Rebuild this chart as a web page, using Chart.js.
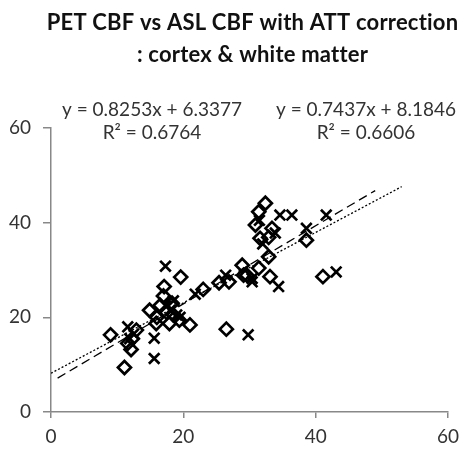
<!DOCTYPE html>
<html>
<head>
<meta charset="utf-8">
<script src="https://cdn.jsdelivr.net/npm/chart.js@4"></script>
<style>
  html, body { margin: 0; padding: 0; background: #fff; }
  #wrap { width: 466px; height: 451px; }
</style>
</head>
<body>
<div id="wrap"><canvas id="scatter" width="466" height="451"></canvas></div>
<script>
// ASL CBF (x) vs PET CBF (y)
const diamondX = [9, 11.1, 11.6, 12.1, 12.3, 12.9, 14.9, 15.9, 16.5, 17.1, 17.5, 17.9, 18.3, 19.4, 19.6, 21, 23, 25.4, 26.5, 26.9, 28.9, 29.1, 29.6, 30.9, 31.4, 31.4, 31.6, 32.4, 32.9, 32.9, 33.1, 33.4, 38.6, 41.1, 17, 18.5, 16];
const diamondY = [16.3, 9.4, 14.5, 13.2, 15.5, 17.3, 21.5, 18.7, 22.5, 26.5, 21, 18.7, 23, 19.4, 28.5, 18.4, 25.9, 27.3, 17.5, 27.5, 31, 28.9, 28.9, 39.5, 42.3, 30.4, 36.7, 44.1, 36.9, 32.8, 28.6, 38.8, 36.3, 28.6, 24.5, 20.5, 20];
const crossX = [11.6, 11.9, 12.5, 15.6, 15.6, 17.3, 17.3, 18, 18.5, 19, 19.5, 21.8, 26.4, 29.8, 30.4, 30.4, 33.9, 34.4, 34.6, 36.4, 38.6, 41.6, 43.1, 32, 31.5];
const crossY = [18, 15.5, 16.5, 11.3, 15.6, 30.8, 22.5, 21.5, 23.5, 20.5, 20, 24.9, 28.9, 16.3, 27.5, 28.2, 37.8, 26.5, 41.6, 41.6, 38.8, 41.6, 29.6, 35.5, 40.5];

// trend lines as reported on the chart
const slopes = [0.8253, 0.7437];
const intercepts = [6.3377, 8.1846];
const r2 = ['0.6764', '0.6606'];
const trendRange = [[1, 49], [0, 53]];

const ticks = [0, 20, 40, 60];

function pts(xs, ys) {
    return xs.map((x, i) => ({ x: x, y: ys[i] }));
}
function trend(k) {
    return trendRange[k].map(x => ({ x: x, y: slopes[k] * x + intercepts[k] }));
}

const textFont = 'Lato, "Open Sans", sans-serif';

const labelsPlugin = {
    id: 'labels',
    afterDraw(chart) {
        const ctx = chart.ctx;
        const a = chart.chartArea;
        ctx.save();
        ctx.textAlign = 'center';
        ctx.textBaseline = 'middle';
        ctx.fillStyle = '#111';
        ctx.font = 'bold 22px ' + textFont;
        ctx.letterSpacing = '0.2px';
        const cx = (a.left + a.right) / 2 + 3;
        ctx.fillText('PET CBF vs ASL CBF with ATT correction', cx, 23);
        ctx.fillText(': cortex & white matter', cx, 55);

        ctx.fillStyle = '#333';
        ctx.font = '19px ' + textFont;
        ctx.letterSpacing = '0px';
        const pos = [a.left + 101, a.left + 315];
        for (let k = 0; k < 2; k++) {
            const s = intercepts[k] >= 0 ? ' + ' : ' - ';
            ctx.fillText('y = ' + slopes[k].toFixed(4) + 'x' + s + Math.abs(intercepts[k]).toFixed(4), pos[k], a.top - 18);
            ctx.fillText('R\u00B2 = ' + r2[k], pos[k], a.top + 5);
        }
        ctx.restore();
    }
};

new Chart(document.getElementById('scatter').getContext('2d'), {
    type: 'scatter',
    data: {
        datasets: [
            {
                label: 'diamond',
                data: pts(diamondX, diamondY),
                pointStyle: 'rectRot',
                pointRadius: 6.5,
                borderColor: '#000',
                backgroundColor: 'rgba(0,0,0,0)',
                borderWidth: 2.7
            },
            {
                label: 'cross',
                data: pts(crossX, crossY),
                pointStyle: 'crossRot',
                pointRadius: 7.5,
                borderColor: '#000',
                borderWidth: 2.7
            },
            {
                type: 'line',
                label: 'trend 1',
                data: trend(0),
                borderColor: '#000',
                borderWidth: 1.3,
                borderDash: [9, 5],
                pointRadius: 0,
                fill: false
            },
            {
                type: 'line',
                label: 'trend 2',
                data: trend(1),
                borderColor: '#000',
                borderWidth: 1.3,
                borderDash: [2, 2],
                pointRadius: 0,
                fill: false
            }
        ]
    },
    options: {
        responsive: false,
        animation: false,
        layout: { padding: { top: 128, right: 15, left: 0, bottom: 0 } },
        plugins: {
            legend: { display: false },
            tooltip: { enabled: false }
        },
        scales: {
            x: {
                type: 'linear',
                min: 0,
                max: 60,
                afterBuildTicks: s => { s.ticks = ticks.map(v => ({ value: v })); },
                afterFit: s => { s.height = 39; },
                border: { color: '#888', width: 1.5 },
                grid: { drawOnChartArea: false, color: '#888', tickLength: 6, lineWidth: 1.5 },
                ticks: { color: '#333', font: { family: textFont, size: 19 }, padding: 7 }
            },
            y: {
                min: 0,
                max: 60,
                afterBuildTicks: s => { s.ticks = ticks.map(v => ({ value: v })); },
                afterFit: s => { s.width = 51; },
                border: { color: '#888', width: 1.5 },
                grid: { drawOnChartArea: false, color: '#888', tickLength: 8, lineWidth: 1.5 },
                ticks: { color: '#333', font: { family: textFont, size: 19 }, padding: 12 }
            }
        }
    },
    plugins: [labelsPlugin]
});
</script>
</body>
</html>
